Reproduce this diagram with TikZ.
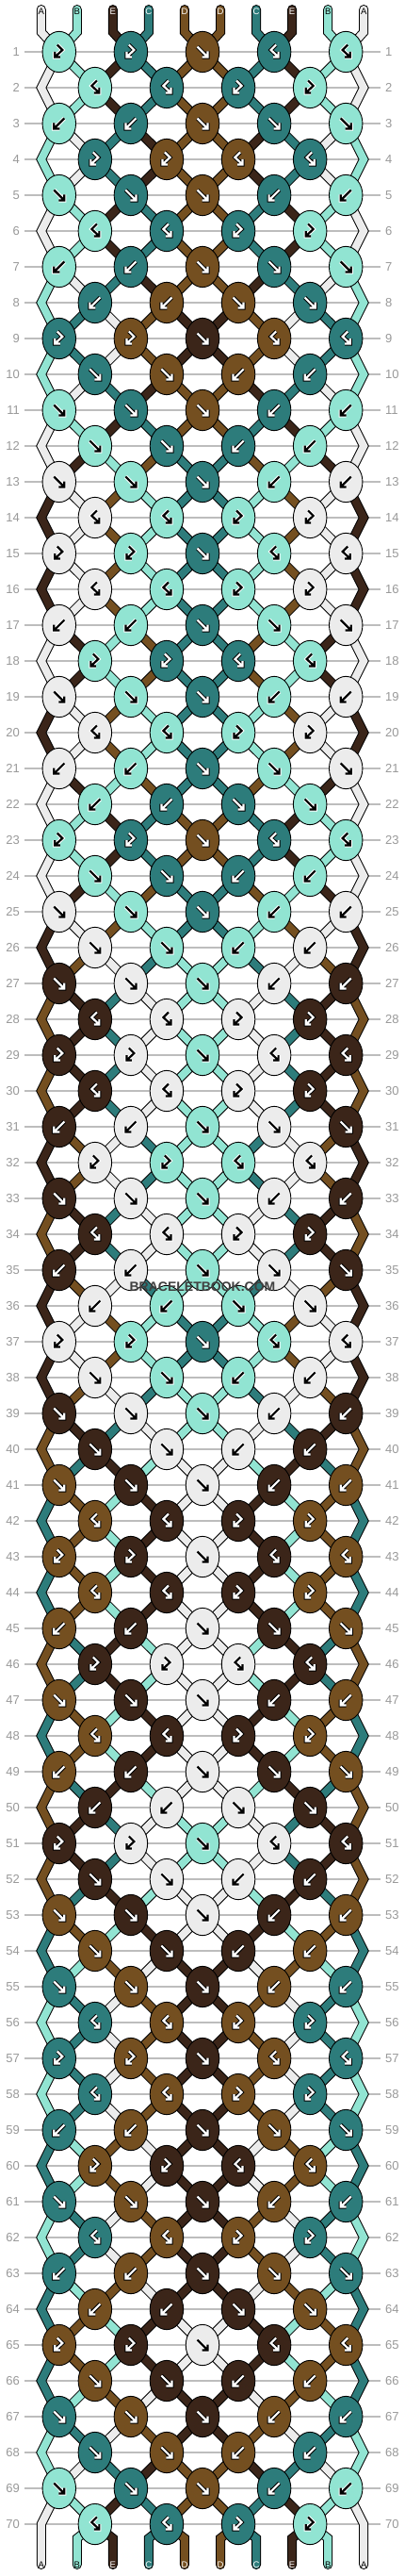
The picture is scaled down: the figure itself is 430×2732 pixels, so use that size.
\documentclass[tikz,border=0pt]{standalone}
\usepackage{fontspec}
\setmainfont{Liberation Sans}
\usetikzlibrary{shapes.geometric}
\definecolor{cA}{HTML}{ECECEC}
\definecolor{cB}{HTML}{91E4D2}
\definecolor{cC}{HTML}{2D7C7B}
\definecolor{cD}{HTML}{744F20}
\definecolor{cE}{HTML}{3B2519}
\definecolor{rowgray}{HTML}{BDBDBD}
\definecolor{numgray}{HTML}{999999}
\definecolor{wmgray}{HTML}{404040}
\newcommand\bbsetid[4]{%
  \expandafter\gdef\csname SC#1\endcsname{c#2}%
  \expandafter\gdef\csname TC#1\endcsname{#3}%
  \expandafter\gdef\csname OC#1\endcsname{#4}%
  \expandafter\gdef\csname LB#1\endcsname{#2}}
\bbsetid{1}{A}{black}{white}
\bbsetid{2}{B}{black}{white}
\bbsetid{3}{E}{white}{black}
\bbsetid{4}{C}{white}{black}
\bbsetid{5}{D}{white}{black}
\bbsetid{6}{D}{white}{black}
\bbsetid{7}{C}{white}{black}
\bbsetid{8}{E}{white}{black}
\bbsetid{9}{B}{black}{white}
\bbsetid{10}{A}{black}{white}
\expandafter\def\csname GLf\endcsname{(-5.5,-5.5) -- (5.5,5.5) (-0.5,5.5) -- (5.5,5.5) -- (5.5,-0.5)}
\expandafter\def\csname GLb\endcsname{(5.5,-5.5) -- (-5.5,5.5) (0.5,5.5) -- (-5.5,5.5) -- (-5.5,-0.5)}
\expandafter\def\csname GLF\endcsname{(2,-7.5) -- (-3.5,-2) -- (4.5,5.5) (-1,5.5) -- (4.5,5.5) -- (4.5,0)}
\expandafter\def\csname GLB\endcsname{(-2,-7.5) -- (3.5,-2) -- (-4.5,5.5) (1,5.5) -- (-4.5,5.5) -- (-4.5,0)}
\def\bbmode{0}
\newcommand\bbseg[2]{%
  \ifnum\bbmode=1
    \edef\bbtmp{\noexpand\draw[strout] \csname PRE#1\endcsname (#2);}\bbtmp
  \fi
  \ifnum\bbmode=2
    \edef\bbtmp{\noexpand\draw[strin,draw=\csname SC#1\endcsname] \csname PRE#1\endcsname (#2);}\bbtmp
  \fi
  \expandafter\xdef\csname PRE#1\endcsname{(#2) -- }}
\newcommand\bbedge[2]{%
  \expandafter\xdef\csname PRE#1\endcsname{\csname PRE#1\endcsname (#2) -- }}
\newcommand\bbswap[2]{%
  \edef\bbta{\csname S#1\endcsname}\edef\bbtb{\csname S#2\endcsname}%
  \expandafter\xdef\csname S#1\endcsname{\bbtb}%
  \expandafter\xdef\csname S#2\endcsname{\bbta}}
\newcommand\bbglyph[4]{%
  \edef\bbtmp{\noexpand\draw[glyphout,draw=#3,shift={(#4.center)}] \csname GL#1\endcsname;}\bbtmp
  \edef\bbtmp{\noexpand\draw[glyphin,draw=#2,shift={(#4.center)}] \csname GL#1\endcsname;}\bbtmp}
\def\bbrows{{B,B,f,F,F},{F,F,B,B},{b,b,f,f,f},{B,B,F,F},{f,f,f,b,b},{F,F,B,B},{b,b,f,f,f},{b,b,f,f},{B,B,f,F,F},{f,f,b,b},{f,f,f,b,b},{f,f,b,b},{f,f,f,b,b},{F,F,B,B},
{B,B,f,F,F},{F,F,B,B},{b,b,f,f,f},{B,B,F,F},{f,f,f,b,b},{F,F,B,B},{b,b,f,f,f},{b,b,f,f},{B,B,f,F,F},{f,f,b,b},{f,f,f,b,b},{f,f,b,b},{f,f,f,b,b},{F,F,B,B},
{B,B,f,F,F},{F,F,B,B},{b,b,f,f,f},{B,B,F,F},{f,f,f,b,b},{F,F,B,B},{b,b,f,f,f},{b,b,f,f},{B,B,f,F,F},{f,f,b,b},{f,f,f,b,b},{f,f,b,b},{f,f,f,b,b},{F,F,B,B},
{B,B,f,F,F},{F,F,B,B},{b,b,f,f,f},{B,B,F,F},{f,f,f,b,b},{F,F,B,B},{b,b,f,f,f},{b,b,f,f},{B,B,f,F,F},{f,f,b,b},{f,f,f,b,b},{f,f,b,b},{f,f,f,b,b},{F,F,B,B},
{B,B,f,F,F},{F,F,B,B},{b,b,f,f,f},{B,B,F,F},{f,f,f,b,b},{F,F,B,B},{b,b,f,f,f},{b,b,f,f},{B,B,f,F,F},{f,f,b,b},{f,f,f,b,b},{f,f,b,b},{f,f,f,b,b},{F,F,B,B}}
\newcommand\bbpass[1]{%
  \gdef\bbmode{#1}%
  \foreach \i in {1,...,10}{
    \pgfmathsetmacro\xx{215+(\i-5.5)*38.05}
    \coordinate (top-\i) at (\xx,10);
    \coordinate (bend-\i) at (\xx,34);
    \expandafter\xdef\csname PRE\i\endcsname{(top-\i) -- (bend-\i) -- }
    \expandafter\xdef\csname S\i\endcsname{\i}
    \ifnum\bbmode=3
      \edef\tcol{\csname TC\i\endcsname}
      \node[strlabel,text=\tcol] (lt-\i) at (\xx,12.7) {\csname LB\i\endcsname};
    \fi
  }
  \foreach \codes [count=\r] in \bbrows {
    \pgfmathsetmacro\yy{55+(\r-1)*38}
    \ifodd\r\relax\def\isodd{1}\else\def\isodd{0}\fi
    \foreach \c [count=\k] in \codes {
      \pgfmathtruncatemacro\p{2*\k-\isodd}
      \pgfmathtruncatemacro\q{\p+1}
      \pgfmathsetmacro\cx{215+(\p-5)*38.05}
      \edef\lid{\csname S\p\endcsname}
      \edef\rid{\csname S\q\endcsname}
      \edef\kid{\rid}
      \if f\c \edef\kid{\lid}\fi
      \if F\c \edef\kid{\lid}\fi
      \coordinate (kc-\r-\k) at (\cx,\yy);
      \bbseg{\lid}{kc-\r-\k}
      \bbseg{\rid}{kc-\r-\k}
      \ifnum\bbmode=3
        \edef\kcol{\csname SC\kid\endcsname}
        \node[knot,fill=\kcol] (k-\r-\k) at (kc-\r-\k) {};
        \bbglyph{\c}{\csname TC\kid\endcsname}{\csname OC\kid\endcsname}{k-\r-\k}
      \fi
      \if f\c \bbswap{\p}{\q}\fi
      \if b\c \bbswap{\p}{\q}\fi
    }
    \ifodd\r\relax\else
      \coordinate (e-\r-1) at (43.8,\yy);
      \coordinate (e-\r-10) at (386.2,\yy);
      \edef\ea{\csname S1\endcsname}\edef\eb{\csname S10\endcsname}
      \bbedge{\ea}{e-\r-1}
      \bbedge{\eb}{e-\r-10}
    \fi
  }
  \foreach \q in {1,...,10}{
    \pgfmathsetmacro\xx{215+(\q-5.5)*38.05}
    \edef\sid{\csname S\q\endcsname}
    \coordinate (bb-\q) at (\xx,2692);
    \coordinate (bot-\q) at (\xx,2720);
    \bbedge{\sid}{bb-\q}
    \bbseg{\sid}{bot-\q}
    \ifnum\bbmode=3
      \edef\tcol{\csname TC\sid\endcsname}
      \node[strlabel,text=\tcol] (lb-\q) at (\xx,2720.5) {\csname LB\sid\endcsname};
    \fi
  }
}
\tikzset{
  knot/.style={ellipse,draw=black,line width=0.9pt,minimum width=35.5pt,minimum height=43.3pt,inner sep=0pt},
  strout/.style={line width=10pt,draw=black,line cap=round,line join=miter},
  strin/.style={line width=8pt,line cap=round,line join=miter},
  glyphout/.style={line width=4.2pt,line cap=butt,line join=miter},
  glyphin/.style={line width=2.2pt,line cap=butt,line join=miter},
  rowline/.style={draw=rowgray,line width=1.2pt},
  rownum/.style={text=numgray,inner sep=0pt,font=\fontsize{13}{13}\selectfont},
  strlabel/.style={inner sep=0pt,font=\fontsize{9.5}{9.5}\selectfont}
}
\begin{document}
\begin{tikzpicture}[x=1pt,y=-1pt]
\useasboundingbox (0,0) rectangle (430,2732);
\fill[white] (0,0) rectangle (430,2732);
\foreach \r in {1,...,70}{
  \pgfmathsetmacro\yy{55+(\r-1)*38}
  \draw[rowline] (26,\yy) coordinate (gl-\r) -- (404,\yy) coordinate (gr-\r);
  \node[rownum,anchor=east] (nl-\r) at (21,\yy) {\r};
  \node[rownum,anchor=west] (nr-\r) at (409,\yy) {\r};
}
\bbpass{1}
\bbpass{2}
\bbpass{3}
\node[font=\bfseries\fontsize{14}{14}\selectfont,text=wmgray,inner sep=0pt] (wm) at (215,1365) {BRACELETBOOK.COM};
\end{tikzpicture}
\end{document}
